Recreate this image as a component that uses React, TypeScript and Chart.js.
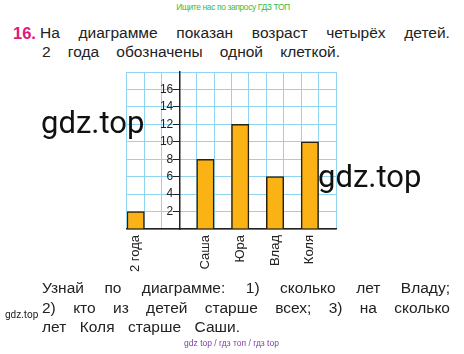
import React, { useEffect, useRef } from "react";
import { Chart, registerables } from "chart.js";

Chart.register(...registerables);

const categories = ["2 года", "", "", "", "Саша", "", "Юра", "", "Влад", "", "Коля", ""];
const ages = [2, null, null, null, 8, null, 12, null, 6, null, 10, null];
const yMin = 0;
const yMax = 18;
const yStep = 2;
const hiddenTicks = [0, 18];

const task = "16.";
const topLines = ["На диаграмме показан возраст четырёх детей.", "2 года обозначены одной клеткой."];
const bottomLines = [
  "Узнай по диаграмме: 1) сколько лет Владу;",
  "2) кто из детей старше всех; 3) на сколько",
  "лет Коля старше Саши.",
];

const TEXT_FONT = '"Liberation Sans", Arial, sans-serif';

function JLine({ text, left, top, width }: { text: string; left: number; top: number; width: number }) {
  const words = text.split(" ");
  return (
    <div
      style={{
        position: "absolute",
        left,
        top,
        width,
        display: "flex",
        justifyContent: "space-between",
        fontFamily: TEXT_FONT,
        fontSize: 15.5,
        lineHeight: "15.5px",
        color: "#222",
        whiteSpace: "nowrap",
      }}
    >
      {words.map((w, i) => (
        <span key={i}>{w}</span>
      ))}
    </div>
  );
}

export default function App() {
  const ref = useRef<HTMLCanvasElement>(null);
  useEffect(() => {
    if (!ref.current) return;
    const grid = "#8fd4f2";
    const dark = "#222";
    const chart = new Chart(ref.current, {
      type: "bar",
      data: {
        labels: categories,
        datasets: [
          {
            data: ages,
            backgroundColor: "#fab215",
            borderColor: "#2b2110",
            borderWidth: 1.5,
            barPercentage: 1,
            categoryPercentage: 1,
          },
        ],
      },
      options: {
        animation: false,
        responsive: false,
        maintainAspectRatio: false,
        layout: { padding: { left: 27, right: 24, top: 12, bottom: 0 } },
        plugins: { legend: { display: false }, tooltip: { enabled: false } },
        scales: {
          x: {
            offset: true,
            afterFit: (s: any) => {
              s.height = 51;
            },
            grid: { color: grid, lineWidth: 1, offset: true, drawTicks: false },
            border: { color: dark, width: 1.5 },
            ticks: {
              autoSkip: false,
              minRotation: 90,
              maxRotation: 90,
              padding: 6,
              color: dark,
              font: { family: TEXT_FONT, size: 13 },
            },
          },
          y: {
            position: { x: 2.5 } as any,
            min: yMin,
            max: yMax,
            grid: {
              color: grid,
              lineWidth: 1,
              tickLength: 6,
              tickColor: (c: any) => (hiddenTicks.includes(c.tick?.value) ? "rgba(0,0,0,0)" : dark),
            },
            border: { color: dark, width: 1.5 },
            ticks: {
              stepSize: yStep,
              color: dark,
              font: { family: TEXT_FONT, size: 12 },
              callback: (v: any) => (hiddenTicks.includes(Number(v)) ? "" : String(v) + "\u2002"),
            },
          },
        },
      },
    });
    return () => chart.destroy();
  }, []);

  return (
    <div style={{ position: "fixed", left: 0, top: 0, width: 464, height: 354, background: "#fff", overflow: "hidden" }}>
      <div
        style={{
          position: "absolute",
          left: 175,
          top: 2,
          width: 116,
          fontFamily: TEXT_FONT,
          fontSize: 8.5,
          lineHeight: "10px",
          color: "#3dbb3d",
          whiteSpace: "nowrap",
          letterSpacing: -0.4,
          textAlign: "center",
        }}
      >
        Ищите нас по запросу ГДЗ ТОП
      </div>
      <div
        style={{
          position: "absolute",
          left: 13,
          top: 25,
          fontFamily: TEXT_FONT,
          fontSize: 16.5,
          lineHeight: "16.5px",
          fontWeight: "bold",
          color: "#e0187c",
        }}
      >
        {task}
      </div>
      <JLine text={topLines[0]} left={40} top={25} width={410} />
      <JLine text={topLines[1]} left={42} top={44} width={298} />
      <canvas ref={ref} width={260} height={220} style={{ position: "absolute", left: 100, top: 60, width: 260, height: 220 }} />
      <div style={{ position: "absolute", left: 41, top: 107, fontFamily: "Roboto, sans-serif", fontSize: 31, lineHeight: "31px", color: "#111" }}>
        gdz.top
      </div>
      <div style={{ position: "absolute", left: 318, top: 161, fontFamily: "Roboto, sans-serif", fontSize: 31, lineHeight: "31px", color: "#111" }}>
        gdz.top
      </div>
      <JLine text={bottomLines[0]} left={42} top={280} width={408} />
      <JLine text={bottomLines[1]} left={42} top={300} width={408} />
      <JLine text={bottomLines[2]} left={42} top={319} width={198} />
      <div style={{ position: "absolute", left: 5, top: 310, fontFamily: "Roboto, sans-serif", fontSize: 10, lineHeight: "10px", color: "#222" }}>
        gdz.top
      </div>
      <div
        style={{
          position: "absolute",
          left: 180,
          top: 338,
          width: 103,
          fontFamily: TEXT_FONT,
          fontSize: 8.5,
          lineHeight: "10px",
          color: "#7a3fa8",
          whiteSpace: "nowrap",
          textAlign: "center",
        }}
      >
        gdz top / гдз топ / гдз top
      </div>
    </div>
  );
}
